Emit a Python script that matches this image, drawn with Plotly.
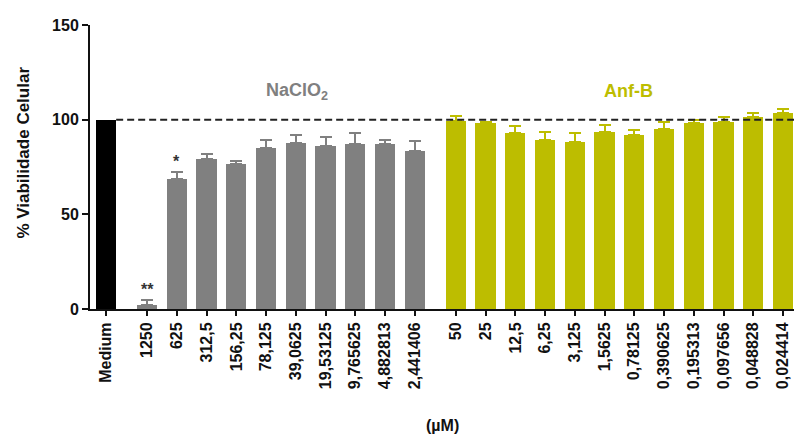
import plotly.graph_objects as go

# Categories and cell-viability values (% of medium control)
medium_label = ["Medium"]
medium_value = [100.0]

naclo2_labels = ["1250", "625", "312,5", "156,25", "78,125", "39,0625",
                 "19,53125", "9,765625", "4,882813", "2,441406"]
naclo2_values = [2.0, 68.5, 79.1, 76.6, 85.0, 87.5, 86.0, 87.2, 87.0, 83.6]
naclo2_err = [2.7, 4.0, 3.0, 1.5, 4.3, 4.5, 5.0, 6.0, 2.0, 5.0]
naclo2_marks = ["**", "*", "", "", "", "", "", "", "", ""]

anfb_labels = ["50", "25", "12,5", "6,25", "3,125", "1,5625", "0,78125",
               "0,390625", "0,195313", "0,097656", "0,048828", "0,024414"]
anfb_values = [99.5, 98.0, 93.2, 89.3, 88.4, 93.7, 91.7, 94.9, 98.4, 99.0, 101.2, 103.4]
anfb_err = [2.5, 1.0, 3.5, 4.0, 4.8, 3.5, 3.1, 3.9, 1.4, 2.2, 2.2, 2.1]

# Category positions: small gaps between the control and each treatment group
group_gap = 1.38
x_medium = [0.0]
x_naclo2 = [group_gap + i for i in range(len(naclo2_labels))]
x_anfb = [x_naclo2[-1] + group_gap + i for i in range(len(anfb_labels))]

BLACK = "#000000"
GRAY = "#808080"
OLIVE = "#BDBD00"
FONT = "Arial, Liberation Sans, sans-serif"
BAR_W = 0.68

fig = go.Figure()

fig.add_trace(go.Bar(x=x_medium, y=medium_value, width=BAR_W,
                     marker=dict(color=BLACK, line=dict(width=0)),
                     showlegend=False))

fig.add_trace(go.Bar(x=x_naclo2, y=naclo2_values, width=BAR_W,
                     marker=dict(color=GRAY, line=dict(width=0)),
                     error_y=dict(type="data", array=naclo2_err,
                                  arrayminus=[0] * len(naclo2_err),
                                  symmetric=False, color=GRAY,
                                  thickness=2, width=6),
                     showlegend=False))

fig.add_trace(go.Bar(x=x_anfb, y=anfb_values, width=BAR_W,
                     marker=dict(color=OLIVE, line=dict(width=0)),
                     error_y=dict(type="data", array=anfb_err,
                                  arrayminus=[0] * len(anfb_err),
                                  symmetric=False, color=OLIVE,
                                  thickness=2, width=6),
                     showlegend=False))

# Reference line at 100 %, starting at the right edge of the control bar
fig.add_shape(type="line", xref="x", yref="y",
              x0=x_medium[0] + BAR_W / 2, x1=x_anfb[-1] + 0.5, y0=100, y1=100,
              line=dict(color="#222222", width=2, dash="7px,4px"),
              layer="above")

# Significance marks above error bars
for xv, yv, ev, mk in zip(x_naclo2, naclo2_values, naclo2_err, naclo2_marks):
    if mk:
        fig.add_annotation(x=xv, y=yv + ev, text="<b>%s</b>" % mk,
                           showarrow=False, yanchor="bottom", yshift=0,
                           font=dict(family=FONT, size=16, color="#333333"))

# Group labels
fig.add_annotation(x=(x_naclo2[0] + x_naclo2[-1]) / 2 + 0.55, y=115,
                   text="<b>NaClO<sub>2</sub></b>", showarrow=False,
                   font=dict(family=FONT, size=18, color=GRAY))
fig.add_annotation(x=(x_anfb[0] + x_anfb[-1]) / 2 + 0.3, y=115,
                   text="<b>Anf-B</b>", showarrow=False,
                   font=dict(family=FONT, size=18, color=OLIVE))

# Axis titles
fig.add_annotation(xref="paper", yref="paper", x=-0.094, y=0.55,
                   text="<b>% Viabilidade Celular</b>", textangle=-90,
                   showarrow=False, xanchor="center", yanchor="middle",
                   font=dict(family=FONT, size=17, color="#111111"))
fig.add_annotation(xref="paper", yref="paper", x=0.5, y=-0.41,
                   text="<b>(µM)</b>", showarrow=False,
                   xanchor="center", yanchor="middle",
                   font=dict(family=FONT, size=16, color="#111111"))

tick_vals = x_medium + x_naclo2 + x_anfb
tick_text = ["<b>%s</b>" % t for t in medium_label + naclo2_labels + anfb_labels]

fig.update_layout(
    width=794, height=436,
    margin=dict(l=90, r=0, t=25, b=127),
    plot_bgcolor="white", paper_bgcolor="white",
    bargap=0,
    xaxis=dict(range=[-0.54, x_anfb[-1] + 0.37],
               tickmode="array", tickvals=tick_vals, ticktext=tick_text,
               tickangle=-90, ticks="outside", ticklen=5, tickwidth=2,
               tickcolor="#111111", showline=True, linecolor="#111111",
               linewidth=2, showgrid=False, zeroline=False,
               tickfont=dict(family=FONT, size=16, color="#111111")),
    yaxis=dict(range=[0, 150], tickvals=[0, 50, 100, 150],
               ticktext=["<b>0</b>", "<b>50</b>", "<b>100</b>", "<b>150</b>"],
               ticks="outside", ticklen=6, tickwidth=2, tickcolor="#111111",
               showline=True, linecolor="#111111", linewidth=2,
               showgrid=False, zeroline=False,
               tickfont=dict(family=FONT, size=16, color="#111111")),
)

fig.write_html("out.html")
